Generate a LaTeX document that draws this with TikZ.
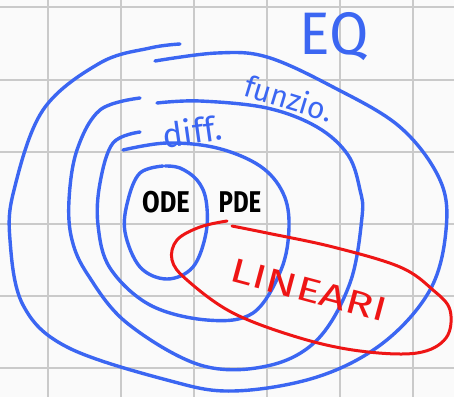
\documentclass[tikz,border=0pt]{standalone}
\usepackage{fontspec}
\setmainfont{Fira Sans}
\definecolor{penblue}{HTML}{3B66F2}
\definecolor{penred}{HTML}{EE1515}
\definecolor{gridgray}{HTML}{CACACA}
\begin{document}
\begin{tikzpicture}[x=1pt,y=-1pt,
  pen/.style={line width=3.4pt,line cap=round,line join=round},
  bluepen/.style={pen,penblue},
  redpen/.style={pen,penred,line width=3pt},
  lbl/.style={inner sep=0pt,font=\fontsize{#1}{#1}\selectfont}]
\fill[white!98!black] (0,0) rectangle (454,397);
\useasboundingbox (0,0) rectangle (454,397);
% grid
\foreach \gx in {48,121,194,267,340,413}
  \draw[gridgray,line width=1.5pt] (\gx,0) -- (\gx,397);
\foreach \gy in {7,80,152,224,296,368}
  \draw[gridgray,line width=1.5pt] (0,\gy) -- (454,\gy);
% outer curve (EQ)
\draw[bluepen] plot[smooth,tension=0.6] coordinates {
  (155,61) (217,53) (267,57) (333,87) (400,127) (440,180) (446,230) (430,290)
  (383,343) (317,377) (233,391) (167,380) (67,347) (23,305) (10,240)
  (14,190) (43,110) (100,63) (150,48) (180,44)};
% funzio. curve
\draw[bluepen] plot[smooth,tension=0.6] coordinates {
  (140,98) (100,110) (77,150) (69,200) (72,240) (88,275) (127,323)
  (200,365) (267,366) (317,340) (350,283) (362,217) (360,190)
  (348,155) (317,127) (267,108) (200,101) (157,103)};
% diff. curve
\draw[bluepen] plot[smooth,tension=0.6] coordinates {
  (140,132) (113,143) (100,183) (98,225) (110,268) (150,305) (207,320)
  (253,313) (281,270) (289,227) (283,193) (260,166) (217,148) (167,143) (123,150)};
% ODE curve
\draw[bluepen] plot[smooth,tension=0.6] coordinates {
  (163,166) (140,173) (128,200) (125,232) (140,267) (167,279) (193,267)
  (206,233) (206,200) (197,180) (180,168) (165,166)};
% red LINEARI curve
\draw[redpen] plot[smooth,tension=0.6] coordinates {
  (227,221) (200,227) (177,240) (172,260) (187,280) (233,313) (300,338)
  (360,351) (417,353) (446,338) (450,310) (433,290) (400,267) (333,247)
  (267,233) (232,226)};
% labels
\node[lbl=60,penblue] (eq) at (334,37) {\scalebox{0.95}[1]{EQ}};
\node[lbl=30,penblue,rotate=-17] (funz) at (289,98) {funzio.};
\node[lbl=34,penblue,rotate=8] (diff) at (192,131) {diff.};
\node[lbl=30,font=\fontsize{30}{30}\selectfont\bfseries] (ode) at (166,202) {\scalebox{0.85}[1]{ODE}};
\node[lbl=30,font=\fontsize{30}{30}\selectfont\bfseries] (pde) at (240,202) {\scalebox{0.8}[1]{PDE}};
\node[lbl=34,penred,rotate=-15] (lin) at (309,290) {\scalebox{1.35}[1]{LINEARI}};
\end{tikzpicture}
\end{document}
